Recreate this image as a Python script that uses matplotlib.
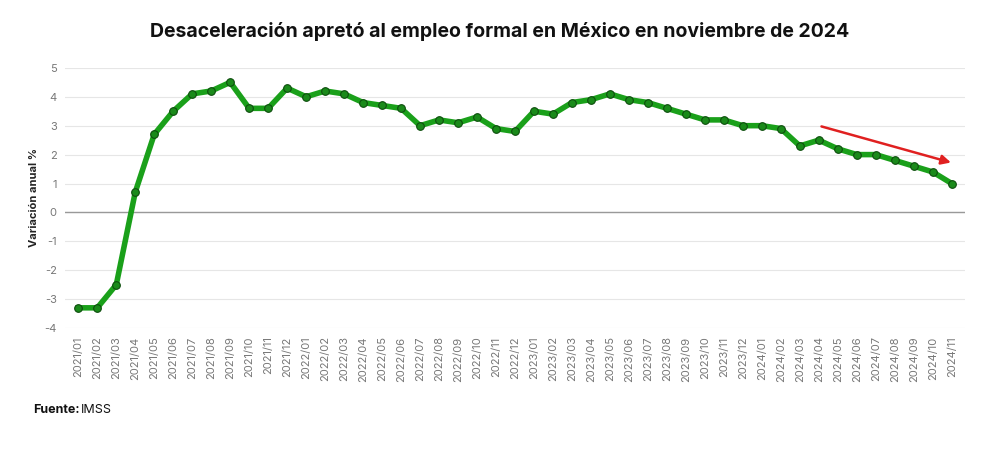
import matplotlib
matplotlib.use("Agg")
import matplotlib.pyplot as plt

months = [f"{y}/{m:02d}" for y in (2021, 2022, 2023) for m in range(1, 13)] + [f"2024/{m:02d}" for m in range(1, 12)]
values = [-3.3, -3.3, -2.5, 0.7, 2.7, 3.5, 4.1, 4.2, 4.5, 3.6, 3.6, 4.3,
          4.0, 4.2, 4.1, 3.8, 3.7, 3.6, 3.0, 3.2, 3.1, 3.3, 2.9, 2.8,
          3.5, 3.4, 3.8, 3.9, 4.1, 3.9, 3.8, 3.6, 3.4, 3.2, 3.2, 3.0,
          3.0, 2.9, 2.3, 2.5, 2.2, 2.0, 2.0, 1.8, 1.6, 1.4, 1.0]
yticks = list(range(-4, 6))

plt.rcParams['font.family'] = ['Inter', 'DejaVu Sans']
fig = plt.figure(figsize=(10, 4.68), dpi=100)
ax = fig.add_axes([0.065, 0.299, 0.9, 0.556])
x = list(range(len(months)))
ax.plot(x, values, color='#1aa01a', lw=4, marker='o', ms=5.5, mfc='#1a8a1a', mec='#0d4d0d', mew=0.8, zorder=3)
ax.set_xlim(-0.7, len(months) - 0.3)
ax.set_ylim(-4, 5)
ax.set_yticks(yticks)
ax.set_yticklabels([str(t) for t in yticks], fontsize=8, color='#777777')
ax.set_xticks(x)
ax.set_xticklabels(months, rotation=90, fontsize=8, color='#777777')
ax.grid(axis='y', color='#e6e6e6', lw=0.8)
ax.axhline(0, color='#999999', lw=1, zorder=2)
for s in ax.spines.values():
    s.set_visible(False)
ax.tick_params(length=0, pad=6)
ax.set_ylabel('Variación anual %', fontsize=8, fontweight='bold', color='#222222')
ax.annotate('', xy=(46.1, 1.7), xytext=(39, 3.0),
            arrowprops=dict(arrowstyle='-|>', color='#e02020', lw=1.8, mutation_scale=14))
fig.text(0.5, 0.932, 'Desaceleración apretó al empleo formal en México en noviembre de 2024',
         ha='center', va='center', fontsize=14, fontweight='bold', color='#111111')
fig.text(0.033, 0.124, 'Fuente:', fontsize=9, fontweight='bold', color='#111111', va='center')
fig.text(0.081, 0.124, 'IMSS', fontsize=9, color='#111111', va='center')
fig.savefig('out.png', dpi=100, facecolor='white')
